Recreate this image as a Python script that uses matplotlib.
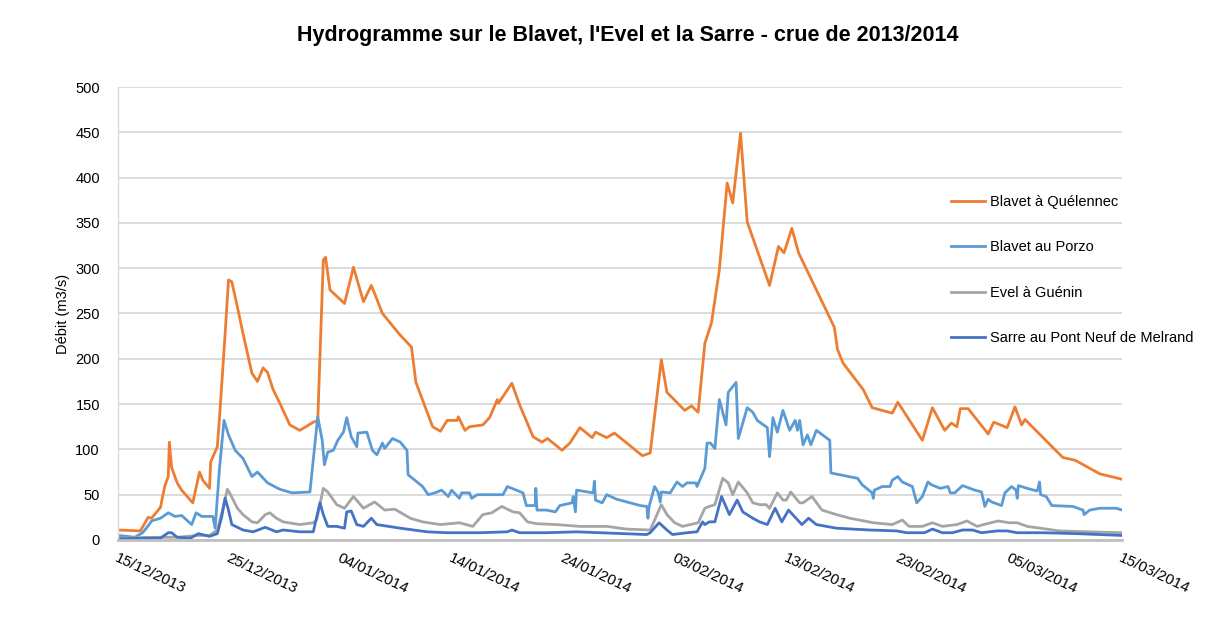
import numpy as np
import pandas as pd
import matplotlib
matplotlib.use("Agg")
import matplotlib.pyplot as plt

plt.rcParams['font.family'] = ['Liberation Sans', 'DejaVu Sans']

# time in days since 15/12/2013
start = pd.Timestamp('2013-12-15')
tick_labels = ['15/12/2013', '25/12/2013', '04/01/2014', '14/01/2014', '24/01/2014',
               '03/02/2014', '13/02/2014', '23/02/2014', '05/03/2014', '15/03/2014']

quelennec_t = [0.0, 2.0, 2.7, 3.0, 3.8, 4.2, 4.5, 4.6, 4.8, 5.3, 5.7, 6.7, 7.3, 7.6, 8.2, 8.3,
               8.9, 9.1, 9.6, 9.9, 10.2, 10.7, 11.2, 12.0, 12.5, 13.0, 13.4, 13.9, 14.5, 15.4,
               16.3, 17.5, 17.9, 18.4, 18.6, 19.0, 20.3, 21.1, 22.0, 22.7, 23.0, 23.7, 25.3,
               26.3, 26.7, 28.2, 28.9, 29.5, 30.4, 30.5, 31.1, 31.5, 32.7, 33.3, 34.0, 34.1,
               35.3, 36.0, 37.2, 38.0, 38.5, 39.8, 40.5, 41.4, 42.5, 42.8, 43.8, 44.5, 47.0,
               47.7, 48.7, 49.2, 50.8, 51.4, 52.0, 52.6, 53.2, 53.9, 54.6, 55.1, 55.8, 56.4,
               58.4, 59.2, 59.7, 60.4, 61.0, 64.2, 64.5, 65.0, 66.8, 67.6, 69.4, 69.9, 72.1,
               73.0, 74.1, 74.7, 75.2, 75.5, 76.2, 78.0, 78.5, 79.7, 80.4, 81.0, 81.3, 83.8,
               84.7, 85.8, 88.0, 90.0]
quelennec_q = [11, 10, 25, 24, 36, 60, 70, 108, 80, 63, 55, 41, 75, 66, 57, 86,
               103, 136, 228, 287, 285, 257, 228, 184, 175, 190, 185, 166, 151, 127,
               121, 130, 132, 309, 312, 276, 261, 301, 263, 281, 272, 250, 226,
               213, 174, 125, 120, 132, 132, 136, 121, 125, 127, 135, 155, 151,
               173, 149, 114, 108, 112, 99, 107, 124, 113, 119, 113, 118, 93,
               96, 199, 163, 143, 148, 141, 217, 240, 298, 394, 372, 449, 351,
               281, 324, 317, 344, 317, 235, 210, 195, 166, 146, 140, 152, 110,
               146, 121, 129, 125, 145, 145, 117, 130, 124, 147, 127, 133, 102,
               91, 88, 73, 67]

porzo_t = [0.0, 1.5, 2.2, 2.6, 3.0, 3.8, 4.5, 5.1, 5.7, 6.6, 7.0, 7.5, 8.5, 8.7, 9.1, 9.5,
           9.9, 10.5, 11.2, 12.0, 12.5, 13.4, 14.5, 15.6, 17.2, 17.9, 18.3, 18.5, 18.8,
           19.3, 19.7, 20.2, 20.5, 20.9, 21.4, 21.5, 22.3, 22.8, 23.2, 23.7, 23.9, 24.6,
           25.3, 25.9, 26.0, 27.3, 27.8, 28.4, 29.0, 29.6, 29.9, 30.6, 30.8, 31.5, 31.7,
           32.2, 34.5, 34.9, 36.3, 36.6, 37.4, 37.45, 37.55, 38.4, 39.2, 39.6, 40.7, 40.8,
           41.0, 41.1, 42.6, 42.7, 42.8, 43.4, 43.8, 44.7, 46.8, 47.4, 47.5, 47.6, 48.1,
           48.4, 48.6, 48.7, 49.5, 50.1, 50.6, 51.0, 51.8, 51.9, 52.6, 52.8, 53.1, 53.5,
           53.9, 54.5, 54.7, 55.4, 55.6, 56.4, 56.9, 57.3, 58.2, 58.4, 58.7, 59.1, 59.6,
           60.2, 60.7, 60.9, 61.1, 61.4, 61.8, 62.1, 62.6, 63.8, 63.9, 66.3, 66.7, 67.6,
           67.7, 67.8, 68.5, 69.2, 69.4, 69.9, 70.3, 71.2, 71.6, 72.1, 72.6, 72.9, 73.7,
           74.4, 74.6, 75.0, 75.7, 76.8, 77.4, 77.7, 78.0, 78.3, 79.2, 79.5, 80.1, 80.5,
           80.6, 80.7, 81.5, 82.4, 82.6, 82.7, 83.2, 83.7, 85.6, 86.5, 86.6, 87.1, 88.0,
           89.5, 90.0]
porzo_q = [5, 3, 8, 14, 21, 24, 30, 26, 27, 17, 30, 26, 26, 13, 80, 132,
           116, 99, 90, 70, 75, 63, 56, 52, 53, 136, 110, 83, 97,
           99, 110, 119, 135, 114, 103, 118, 119, 99, 94, 107, 101, 112,
           108, 99, 72, 59, 50, 52, 55, 48, 55, 46, 52, 52, 46,
           50, 50, 59, 52, 38, 38, 57, 33, 33, 31, 38, 41, 48,
           31, 55, 52, 65, 44, 41, 50, 45, 38, 37, 24, 37, 59,
           53, 42, 53, 52, 64, 59, 63, 63, 59, 79, 107, 107, 101,
           155, 127, 163, 174, 112, 146, 141, 132, 124, 92, 135, 119, 143,
           121, 132, 121, 132, 105, 116, 105, 121, 110, 74, 68, 61, 52,
           46, 55, 59, 59, 66, 70, 64, 59, 41, 48, 64, 61, 57,
           59, 52, 52, 60, 55, 53, 37, 45, 42, 38, 52, 59, 55,
           46, 60, 57, 54, 64, 50, 48, 38, 37, 33, 28, 33, 35,
           35, 33]

guenin_t = [0.0, 3.8, 5.3, 7.1, 8.2, 8.9, 9.3, 9.8, 10.0, 10.7, 11.2, 12.0, 12.5, 13.2, 13.6,
            14.2, 14.8, 16.3, 17.5, 17.8, 18.4, 18.8, 19.6, 20.3, 21.1, 22.0, 23.0, 23.9,
            24.8, 26.2, 27.3, 28.9, 30.6, 31.8, 32.7, 33.5, 34.4, 35.4, 36.0, 36.7, 37.5,
            39.3, 41.4, 43.8, 45.6, 47.7, 48.1, 48.7, 49.2, 49.9, 50.6, 52.0, 52.6, 53.0,
            53.5, 54.2, 54.7, 55.1, 55.6, 56.4, 56.9, 57.5, 58.1, 58.4, 59.1, 59.6, 59.9,
            60.3, 61.1, 61.4, 62.2, 63.1, 64.4, 65.6, 67.7, 69.4, 70.3, 70.9, 72.1, 73.0,
            73.9, 75.2, 76.1, 77.0, 77.9, 78.9, 79.9, 80.6, 81.5, 84.4, 87.1, 90.0]
guenin_q = [2, 3, 3, 5, 5, 11, 30, 56, 52, 35, 28, 20, 19, 28, 30,
            24, 20, 17, 19, 22, 57, 53, 39, 35, 48, 35, 42, 33,
            34, 24, 20, 17, 19, 15, 28, 30, 37, 31, 30, 20, 18,
            17, 15, 15, 12, 11, 22, 39, 28, 19, 15, 19, 35, 37,
            39, 68, 63, 50, 64, 52, 41, 39, 39, 35, 52, 44, 44,
            53, 41, 41, 48, 33, 28, 24, 19, 17, 22, 15, 15, 19,
            15, 17, 21, 15, 18, 21, 19, 19, 15, 10, 9, 8]

melrand_t = [0.0, 2.2, 3.8, 4.5, 4.8, 5.3, 6.5, 7.2, 8.2, 8.9, 9.3, 9.6, 9.9, 10.2, 11.2,
             12.1, 13.2, 14.2, 14.8, 16.3, 17.5, 18.1, 18.4, 18.8, 19.6, 20.3, 20.5, 20.9,
             21.4, 22.0, 22.7, 23.2, 25.3, 27.7, 29.5, 32.4, 34.9, 35.3, 36.0, 38.4, 41.1,
             43.2, 47.4, 47.7, 48.5, 49.2, 49.7, 51.0, 51.9, 52.4, 52.6, 53.0, 53.5, 54.1,
             54.8, 55.5, 56.0, 56.9, 57.5, 58.2, 58.9, 59.5, 60.1, 61.3, 61.9, 62.6, 64.4,
             67.4, 69.8, 70.7, 72.3, 73.0, 73.9, 74.8, 75.7, 76.6, 77.4, 78.8, 79.7, 80.6,
             82.9, 85.9, 90.0]
melrand_q = [1, 2, 2, 8, 8, 3, 2, 7, 4, 7, 26, 46, 33, 17, 11,
             9, 14, 9, 11, 9, 9, 41, 28, 15, 15, 13, 31, 32,
             17, 15, 24, 17, 13, 9, 8, 8, 9, 11, 8, 8, 9,
             8, 6, 8, 19, 11, 6, 8, 9, 20, 17, 20, 20, 48,
             28, 44, 31, 24, 20, 17, 35, 20, 33, 17, 24, 17, 13,
             11, 10, 8, 8, 12, 8, 8, 11, 11, 8, 10, 10, 8,
             8, 7, 5]

series = [
    ('Blavet à Quélennec', quelennec_t, quelennec_q, '#ED7D31'),
    ('Blavet au Porzo', porzo_t, porzo_q, '#5B9BD5'),
    ('Evel à Guénin', guenin_t, guenin_q, '#A5A5A5'),
    ('Sarre au Pont Neuf de Melrand', melrand_t, melrand_q, '#4472C4'),
]

fig = plt.figure(figsize=(12.31, 6.30), dpi=100)
ax = fig.add_axes([0.0959, 0.1429, 0.8156, 0.7190])

for name, t, q, color in series:
    dates = start + pd.to_timedelta(np.array(t), unit='D')
    ax.plot(dates, q, color=color, lw=2.0, label=name, solid_joinstyle='round')

ax.set_ylim(0, 500)
ax.set_yticks(range(0, 501, 50))
ax.set_xlim(start, start + pd.Timedelta(days=90))
ticks = [start + pd.Timedelta(days=10 * i) for i in range(10)]
ax.set_xticks(ticks)
ax.set_xticklabels(tick_labels, rotation=-25, ha='left', va='top',
                   rotation_mode='anchor', fontsize=11)
ax.tick_params(axis='both', length=0)
ax.tick_params(axis='x', pad=8)
ax.tick_params(axis='y', labelsize=10.5, pad=13)

ax.grid(axis='y', color='#D9D9D9', lw=1.3)
ax.set_axisbelow(True)
for s in ['top', 'right']:
    ax.spines[s].set_visible(False)
ax.spines['left'].set_color('#D9D9D9')
ax.spines['left'].set_linewidth(1.0)
ax.spines['bottom'].set_color('#BFBFBF')
ax.spines['bottom'].set_linewidth(2.0)

ax.set_ylabel('Débit (m3/s)', fontsize=10.5, labelpad=4)

fig.text(628 / 1231, 1 - 35 / 630,
         "Hydrogramme sur le Blavet, l'Evel et la Sarre - crue de 2013/2014",
         ha='center', va='center', fontsize=15.5, fontweight='bold')

fig.legend(loc='center left', bbox_to_anchor=(938 / 1231, 1 - 270 / 630),
           frameon=False, fontsize=10.5, handlelength=2.3, handletextpad=0.35,
           labelspacing=2.15)

fig.savefig('out.png', dpi=100)
